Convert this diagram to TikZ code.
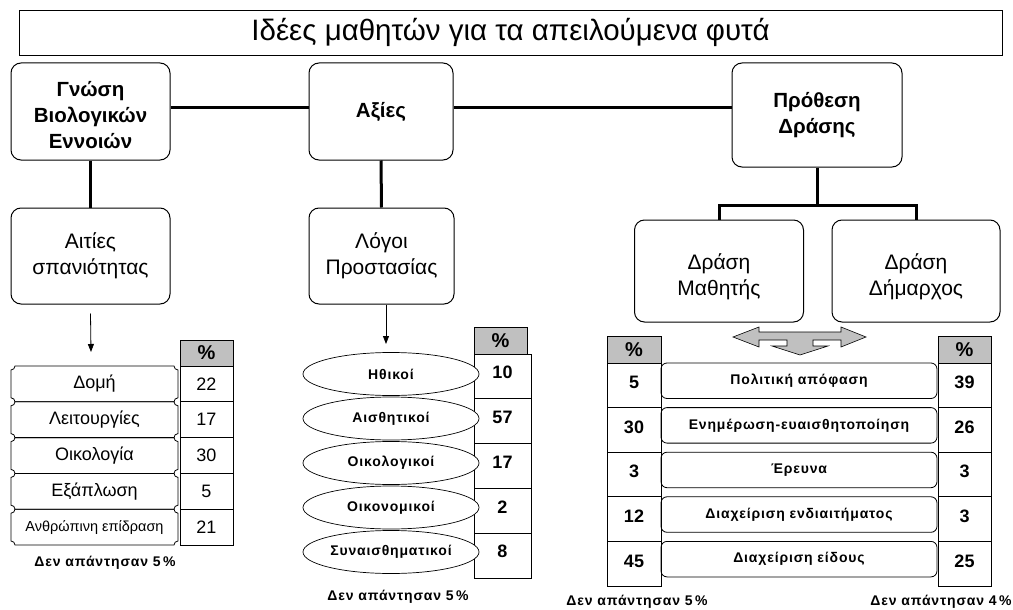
\documentclass[tikz,border=0pt]{standalone}
\usepackage{fontspec}
\setmainfont{Liberation Sans}
\usetikzlibrary{arrows.meta,shapes.geometric,calc}
\definecolor{hdrgray}{HTML}{C0C0C0}
\newcommand\dgTitle{\fontsize{29.5}{32}\selectfont}
\newcommand\dgTop{\fontsize{20.5}{26}\selectfont\bfseries}
\newcommand\dgSub{\fontsize{21}{25.5}\selectfont}
\newcommand\dgHdr{\fontsize{20}{20}\selectfont\bfseries}
\newcommand\dgValL{\fontsize{18}{18}\selectfont}
\newcommand\dgValB{\fontsize{18}{18}\selectfont\bfseries}
\newcommand\dgLab{\fontsize{18}{18}\selectfont}
\newcommand\dgSmall{\fontsize{14}{14}\selectfont\bfseries\addfontfeature{LetterSpace=6}}
\newcommand\dgNote{\fontsize{14}{14}\selectfont\bfseries\addfontfeature{LetterSpace=6}}
\newcommand\dgPlaq[4]{%
  \draw[line width=0.8pt] ({#1+4},#2) -- ({#3-4},#2)
    .. controls ({#3-4},{#2+2.2}) and ({#3-2.2},{#2+4}) .. (#3,{#2+4})
    -- (#3,{#4-4})
    .. controls ({#3-2.2},{#4-4}) and ({#3-4},{#4-2.2}) .. ({#3-4},#4)
    -- ({#1+4},#4)
    .. controls ({#1+4},{#4-2.2}) and ({#1+2.2},{#4-4}) .. (#1,{#4-4})
    -- (#1,{#2+4})
    .. controls ({#1+2.2},{#2+4}) and ({#1+4},{#2+2.2}) .. cycle;}
\tikzset{
  topbox/.style={draw, rounded corners=10pt, line width=1pt, align=center, inner sep=2pt, font=\dgTop},
  subbox/.style={draw, rounded corners=10pt, line width=1pt, align=center, inner sep=2pt, font=\dgSub},
  boxtext/.style={align=center, inner sep=0pt, font=\dgSub},
  thickline/.style={line width=3pt},
  thinarrow/.style={line width=0.8pt, -{Triangle[width=6pt,length=8pt]}},
  hdr/.style={draw, line width=0.8pt, fill=hdrgray, inner sep=0pt, font=\dgHdr},
  cellbox/.style={draw, line width=0.8pt, inner sep=0pt},
  ellbox/.style={draw, ellipse, fill=white, line width=0.7pt, inner sep=0pt, minimum width=176pt, minimum height=43pt, font=\dgSmall},
  actbox/.style={draw, rounded corners=6pt, line width=0.8pt, inner sep=0pt, minimum width=276pt, minimum height=35.5pt, font=\dgSmall},
  note/.style={font=\dgNote, inner sep=0pt}
}
\begin{document}
\begin{tikzpicture}[x=1pt,y=-1pt]
\useasboundingbox (0,0) rectangle (1013,610);
% title
\node[draw, line width=0.8pt, minimum width=983pt, minimum height=45pt, inner sep=0pt, font=\dgTitle] (title) at (510.5,32.5) {Ιδέες μαθητών για τα απειλούμενα φυτά};
% top boxes
\node[topbox, minimum width=159pt, minimum height=97pt] (gnosi) at (90.5,111.5) {};
\node[align=center, inner sep=0pt, font=\dgTop] (gnosiT) at ([yshift=-4pt]gnosi.center) {Γνώση\\Βιολογικών\\Εννοιών};
\node[topbox, minimum width=144pt, minimum height=97pt] (axies) at (381,111.5) {Αξίες};
\node[topbox, minimum width=170pt, minimum height=104pt] (prothesi) at (817,115) {Πρόθεση\\Δράσης};
\draw[thickline] ([yshift=3.5pt]gnosi.east) -- ([yshift=3.5pt]axies.west);
\draw[thickline] ([yshift=3.5pt]axies.east) -- ([yshift=3.5pt]axies.east -| prothesi.west);
% second level
\node[subbox, minimum width=159pt, minimum height=96pt] (aities) at (90.5,256) {Αιτίες\\σπανιότητας};
\node[subbox, minimum width=145pt, minimum height=96pt] (logoi) at (381.5,256) {Λόγοι\\Προστασίας};
\draw[thickline] (gnosi.south) -- (aities.north);
\draw[thickline] (axies.south) -- (logoi.north);
\node[subbox, minimum width=169pt, minimum height=102pt] (mathitis) at (719,271) {};
\node[boxtext] (mathitisT) at ([yshift=-6pt]mathitis.center) {Δράση\\Μαθητής};
\node[subbox, minimum width=168pt, minimum height=102pt] (dimarxos) at (916,271) {};
\node[boxtext] (dimarxosT) at ([yshift=-6pt]dimarxos.center) {Δράση\\Δήμαρχος};
\coordinate (fork) at (817,205);
\draw[thickline] (prothesi.south) -- (fork);
\draw[thickline] (mathitis.north) -- (mathitis.north |- fork) -- (dimarxos.north |- fork) -- (dimarxos.north);
% arrows
\coordinate (a1end) at (91,352);
\draw[thinarrow] ([yshift=-9pt]aities.south) -- (a1end);
\coordinate (a2end) at (386,344);
\draw[thinarrow] ([xshift=4.5pt]logoi.south) -- (a2end);
% left table
\node[hdr, minimum width=53pt, minimum height=26pt] (h1) at (206.5,353) {\%};
\foreach \i/\v/\t in {0/22/Δομή,1/17/Λειτουργίες,2/30/Οικολογία,3/5/Εξάπλωση,4/21/{\fontsize{14.5}{15}\selectfont Ανθρώπινη επίδραση}} {
  \pgfmathsetmacro\ya{366+35.8*\i}
  \pgfmathsetmacro\yb{\ya+35.8}
  \pgfmathsetmacro\yc{\ya+17.9}
  \dgPlaq{11}{\ya}{178}{\yb}
  \node[cellbox, minimum width=53pt, minimum height=35.8pt, font=\dgValL] (lv\i) at (206.5,\yc) {\v};
  \node[font=\dgLab, inner sep=0pt] (ll\i) at (94.5,\yc) {\t};
}
\node[note] (n1) at (105,563) {Δεν απάντησαν 5\,\%};
% middle table
\node[hdr, minimum width=53pt, minimum height=27pt] (h2) at (500.5,340.5) {\%};
\foreach \i/\v/\t in {0/10/Ηθικοί,1/57/Αισθητικοί,2/17/Οικολογικοί,3/2/Οικονομικοί,4/8/Συναισθηματικοί} {
  \pgfmathsetmacro\ya{354+44.8*\i}
  \pgfmathsetmacro\yc{\ya+22.4}
  \node[cellbox, minimum width=57pt, minimum height=44.8pt] (mv\i) at (502.5,\yc) {};
  \node[font=\dgValB, inner sep=0pt] (mt\i) at (502.5,{\yc-4}) {\v};
  \node[ellbox] (me\i) at (391,{374+44.5*\i}) {\t};
}
\node[note] (n2) at (398,597) {Δεν απάντησαν 5\,\%};
% right table
\node[hdr, minimum width=54pt, minimum height=27pt] (h3) at (634,349.5) {\%};
\node[hdr, minimum width=53pt, minimum height=27pt] (h4) at (964.5,349.5) {\%};
\foreach \i/\a/\t/\b in {0/5/Πολιτική απόφαση/39,1/30/Ενημέρωση-ευαισθητοποίηση/26,2/3/Έρευνα/3,3/12/Διαχείριση ενδιαιτήματος/3,4/45/Διαχείριση είδους/25} {
  \pgfmathsetmacro\ya{363+44.6*\i}
  \pgfmathsetmacro\yc{\ya+22.3}
  \node[cellbox, minimum width=54pt, minimum height=44.6pt] (rl\i) at (634,\yc) {};
  \node[cellbox, minimum width=53pt, minimum height=44.6pt] (rr\i) at (964.5,\yc) {};
  \node[font=\dgValB, inner sep=0pt] (ra\i) at (634,{\ya+19.5}) {\a};
  \node[font=\dgValB, inner sep=0pt] (rb\i) at (964.5,{\ya+19.5}) {\b};
  \node[actbox] (rm\i) at (799,{\ya+17.75}) {\t};
}
\node[note] (n3) at (637,602) {Δεν απάντησαν 5\,\%};
\node[note] (n4) at (941,602) {Δεν απάντησαν 4\,\%};
% grey three-way arrow
\draw[fill=hdrgray, line width=0.6pt] (733,337) -- (759,327) -- (759,332) -- (841,332) -- (841,327) -- (866,337) -- (841,347) -- (841,340) -- (813,340) -- (813,346) -- (828,346) -- (800,355) -- (772,346) -- (787,346) -- (787,340) -- (759,340) -- (759,347) -- cycle;
\end{tikzpicture}
\end{document}
